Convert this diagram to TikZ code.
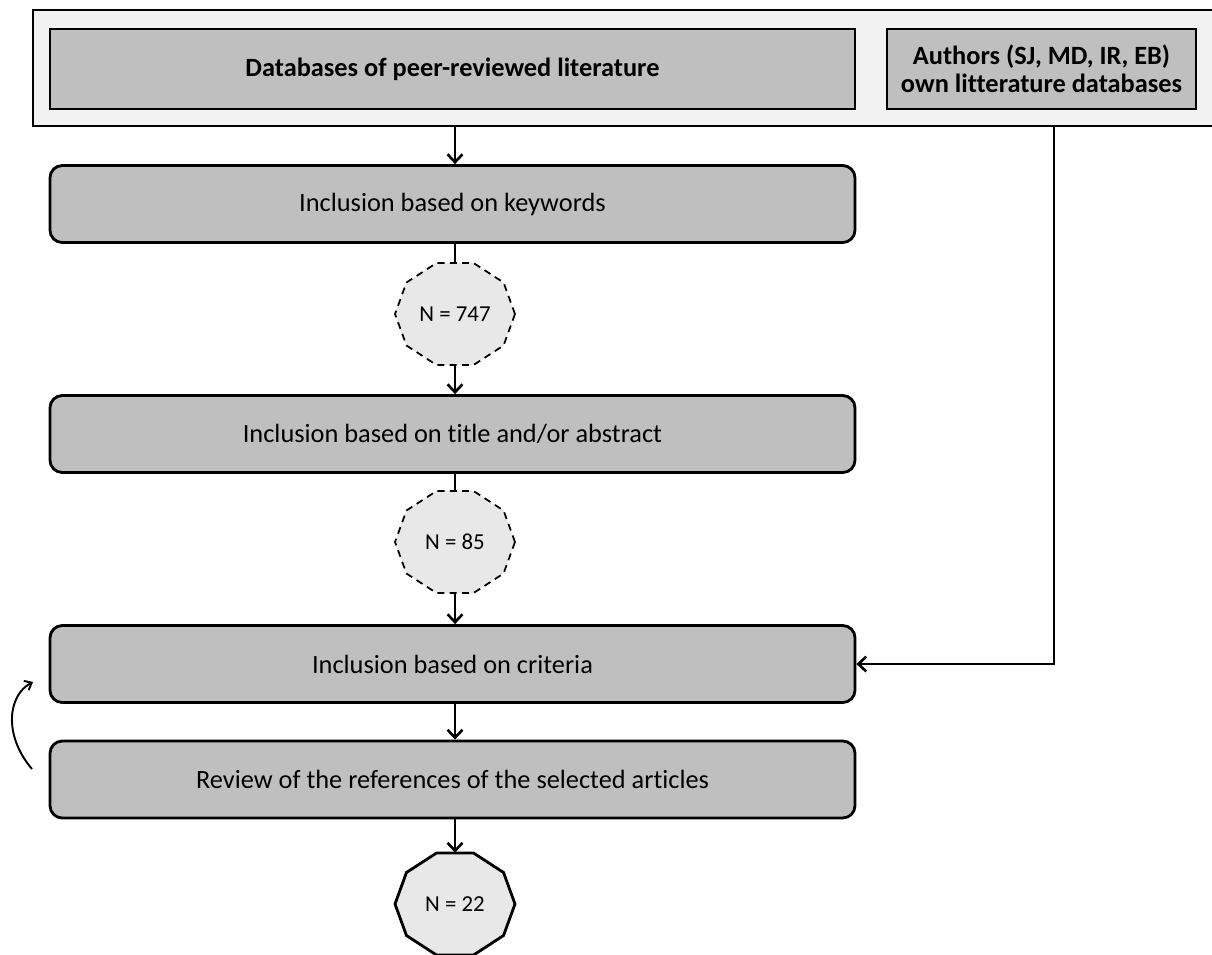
\documentclass[tikz,border=0pt]{standalone}
\usepackage{fontspec}
\setmainfont{Carlito}[Ligatures=NoCommon]
\usetikzlibrary{arrows.meta,calc}
\definecolor{boxgray}{HTML}{BFBFBF}
\definecolor{framegray}{HTML}{F2F2F2}
\definecolor{polygray}{HTML}{E8E8E8}
\tikzset{
  every picture/.style={x=0.02cm,y=-0.02cm},
  ln/.style={line width=1.6pt},
  arr/.style={ln,-{Straight Barb[length=4.5pt,width=8.5pt,line width=1.5pt]}},
  dbbox/.style={draw,ln,fill=boxgray,minimum width=805*0.02cm,minimum height=80*0.02cm,inner sep=0pt,font=\bfseries\fontsize{15}{17}\selectfont},
  stepbox/.style={draw,ln,fill=boxgray,rounded corners=7pt,minimum width=805*0.02cm,minimum height=77*0.02cm,inner sep=0pt,font=\fontsize{15}{17}\selectfont},
  ncount/.style={minimum width=120*0.02cm,minimum height=102*0.02cm,inner sep=0pt,font=\fontsize{13}{15}\selectfont},
}
\newcommand{\decagon}[2]{% #1 node name, #2 extra style
  \draw[ln,fill=polygray,#2] ($(#1.center)+(0:60 and 53.6)$)
    \foreach \a in {36,72,...,324}{ -- ($(#1.center)+(\a:60 and 53.6)$)} -- cycle;
}
\begin{document}
\begin{tikzpicture}
\useasboundingbox (0,0) rectangle (1212,954);
% outer frame
\fill[framegray] (33,10) rectangle (1212,126);
\draw[ln] (1212,10) -- (33,10) -- (33,126) -- (1212,126);
\node[dbbox] (db) at (452.5,69) {Databases of peer-reviewed literature};
\node[dbbox,minimum width=309*0.02cm,align=center] (own) at (1041.5,69) {Authors (SJ, MD, IR, EB)\\[-1pt]own litterature databases};
\coordinate (frameb) at (455,126);
\coordinate (ownb) at (1054,126);
% steps
\node[stepbox] (kw) at (452.5,204) {Inclusion based on keywords};
\node[ncount] (n747) at (455,314) {};
\decagon{n747}{line width=1pt,dash pattern=on 4pt off 3pt}
\node[ncount] (n747t) at (455,314) {N = 747};
\node[stepbox] (ta) at (452.5,434) {Inclusion based on title and/or abstract};
\node[ncount] (n85) at (455,542) {};
\decagon{n85}{line width=1pt,dash pattern=on 4pt off 3pt}
\node[ncount] (n85t) at (455,542) {N = 85};
\node[stepbox] (cr) at (452.5,664) {Inclusion based on criteria};
\node[stepbox] (rv) at (452.5,779.5) {Review of the references of the selected articles};
\node[ncount] (n22) at (455,904) {};
\decagon{n22}{}
\node[ncount] (n22t) at (455,904) {N = 22};
% connectors
\draw[arr] (frameb) -- (kw.north -| frameb);
\draw[ln] (kw.south -| frameb) -- (n747.north);
\draw[arr] (n747.south) -- (ta.north -| frameb);
\draw[ln] (ta.south -| frameb) -- (n85.north);
\draw[arr] (n85.south) -- (cr.north -| frameb);
\draw[arr] (cr.south -| frameb) -- (rv.north -| frameb);
\draw[arr] (rv.south -| frameb) -- (n22.north);
\draw[arr] (ownb) |- (cr.east);
% loop-back arrow
\coordinate (lb1) at (32,769);
\coordinate (lb2) at (33,682);
\draw[line width=1.1pt,-{Straight Barb[length=3.5pt,width=6pt,line width=1.1pt]}] (lb1) .. controls (3,735) and (8,695) .. (lb2);
\end{tikzpicture}
\end{document}
